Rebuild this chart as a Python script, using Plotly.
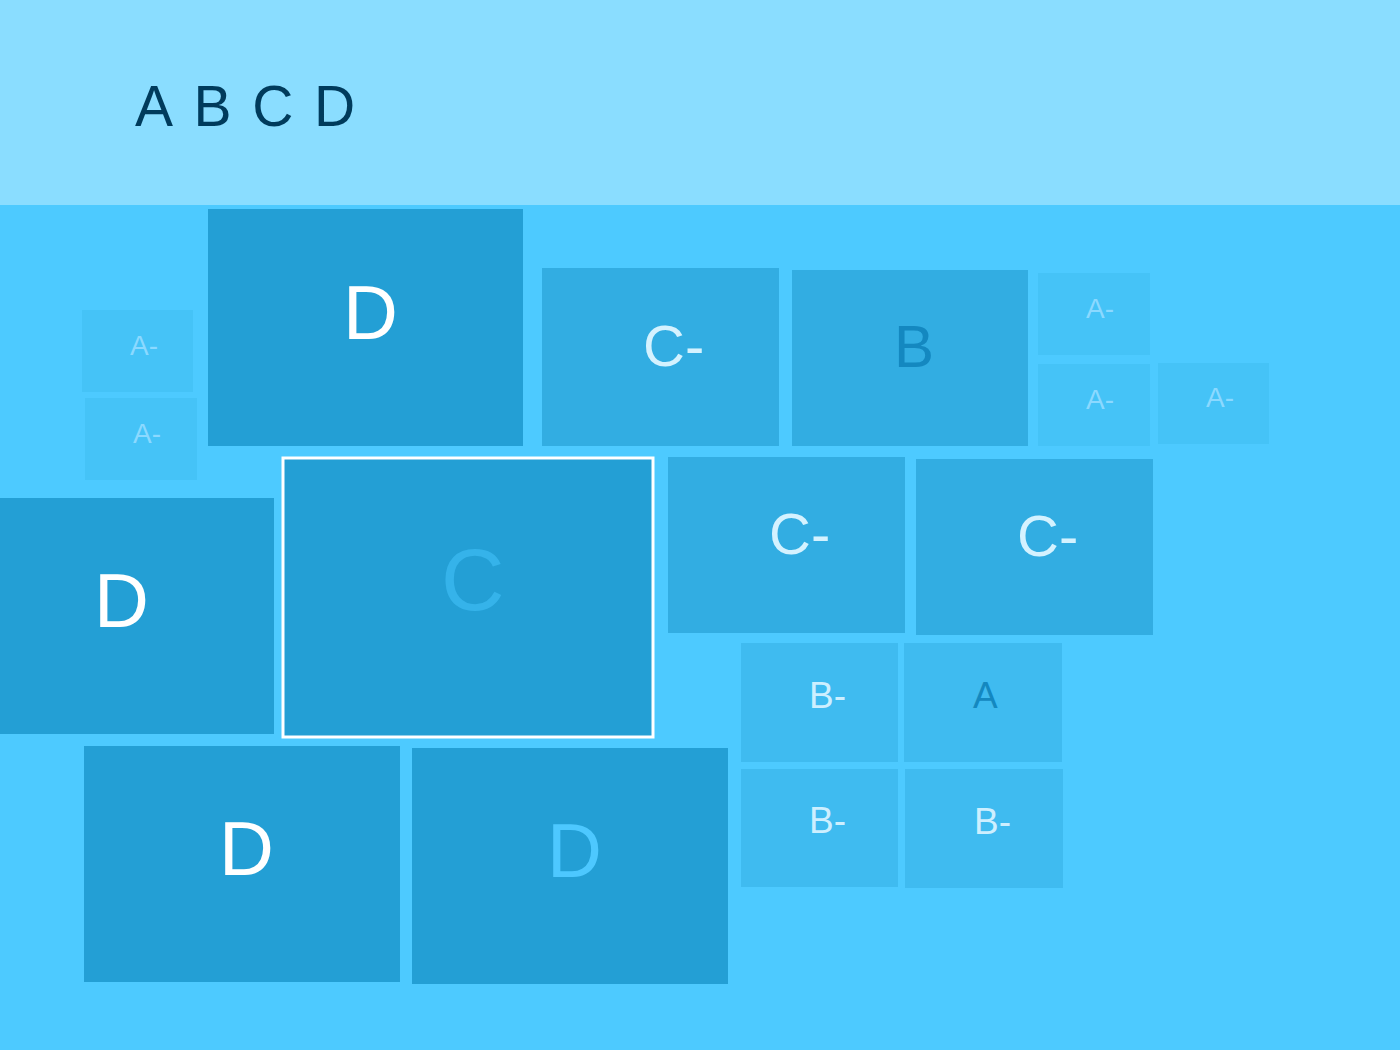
import plotly.graph_objects as go

# ---- data (tile extents in canvas units, labels) ----
labels = ["A-", "A-", "D", "C-", "B", "A-", "A-", "A-", "D", "C",
          "C-", "C-", "B-", "A", "B-", "B-", "D", "D"]
x0 = [82, 85, 208, 542, 792, 1038, 1038, 1158, -40, 283,
      668, 916, 741, 904, 741, 905, 84, 412]
x1 = [193, 197, 523, 779, 1028, 1150, 1150, 1269, 274, 653,
      905, 1153, 898, 1062, 898, 1063, 400, 728]
y0 = [310, 398, 209, 268, 270, 273, 364, 363, 498, 458,
      457, 459, 643, 643, 769, 769, 746, 748]
y1 = [392, 480, 446, 446, 446, 355, 446, 444, 734, 737,
      633, 635, 762, 762, 887, 888, 982, 984]
title_letters = ["A", "B", "C", "D"]
highlighted = 9  # index of the outlined tile

# ---- styles ----
fill_by_grade = {"D": "#239FD5", "C": "#239FD5", "C-": "#32ADE2", "B": "#32ADE2",
                 "B-": "#3FBBF0", "A": "#3FBBF0", "A-": "#45C3F7"}
size_by_grade = {"D": 76, "C": 88, "C-": 58, "B": 60, "B-": 37, "A": 37, "A-": 28}
text_colors = ["#8BD9FF", "#8BD9FF", "#FFFFFF", "#D4F2FF", "#1488C0", "#8BD9FF",
               "#8BD9FF", "#8BD9FF", "#FFFFFF", "#35B3EA", "#D4F2FF", "#D4F2FF",
               "#CDEFFF", "#1488C0", "#CDEFFF", "#CDEFFF", "#FFFFFF", "#4DC8FF"]

BG = "#4DCAFF"
TOP = "#8ADDFF"
FONT = "Liberation Sans, Arial, sans-serif"

fig = go.Figure()

shapes = [dict(type="rect", xref="paper", yref="y", x0=0, x1=1, y0=0, y1=205,
               fillcolor=TOP, line=dict(width=0), layer="below")]
annotations = []
for i, lab in enumerate(labels):
    shapes.append(dict(type="rect", xref="x", yref="y",
                       x0=x0[i], x1=x1[i], y0=y0[i], y1=y1[i],
                       fillcolor=fill_by_grade[lab],
                       line=dict(width=3 if i == highlighted else 0, color="#FFFFFF")))
    fs = size_by_grade[lab]
    cx = (x0[i] + x1[i]) / 2
    cy = (y0[i] + y1[i]) / 2
    annotations.append(dict(x=cx, y=cy - 0.2 * fs, xref="x", yref="y", text=lab,
                            showarrow=False, xanchor="center", yanchor="middle",
                            xshift=(0.22 * fs if lab.endswith("-") else 0.06 * fs),
                            font=dict(family=FONT, size=fs, color=text_colors[i])))

title_text = "\u200a ".join(title_letters)
annotations.append(dict(x=133, y=106, xref="x", yref="y", text=title_text,
                        showarrow=False, xanchor="left", yanchor="middle",
                        font=dict(family=FONT, size=57, color="#003B5C")))

# invisible trace so axes are set up from the data extents
fig.add_trace(go.Scatter(x=[0, 1400], y=[0, 1050], mode="markers",
                         marker=dict(opacity=0), hoverinfo="skip", showlegend=False))

fig.update_layout(
    width=1400, height=1050,
    margin=dict(l=0, r=0, t=0, b=0),
    paper_bgcolor=BG, plot_bgcolor=BG,
    shapes=shapes, annotations=annotations,
    xaxis=dict(range=[0, 1400], visible=False, fixedrange=True),
    yaxis=dict(range=[1050, 0], visible=False, fixedrange=True),
    showlegend=False,
)

fig.write_html("out.html", config={"displayModeBar": False},
               post_script="document.body.style.margin='0';"
                           "document.body.style.overflow='hidden';"
                           "document.body.style.background='" + BG + "';")
